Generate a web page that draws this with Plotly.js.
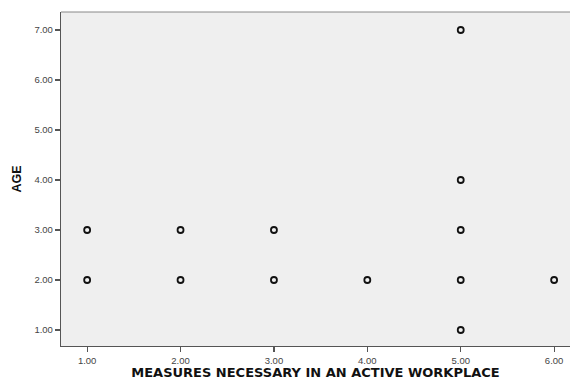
<!DOCTYPE html>
<html>
<head>
<meta charset="utf-8">
<script src="https://cdn.plot.ly/plotly-3.0.1.min.js"></script>
<style>html,body{margin:0;padding:0;background:#fff;}#chart{width:570px;height:380px;}</style>
</head>
<body>
<div id="chart"></div>
<script>
const measures = [1, 1, 2, 2, 3, 3, 4, 5, 5, 5, 5, 5, 6];
const age      = [3, 2, 3, 2, 3, 2, 2, 7, 4, 3, 2, 1, 2];
const xTicks = [1, 2, 3, 4, 5, 6];
const yTicks = [1, 2, 3, 4, 5, 6, 7];
const tickText = v => v.toFixed(2);

const trace = {
  x: measures,
  y: age,
  type: 'scatter',
  mode: 'markers',
  marker: {symbol: 'circle-open', size: 6, color: '#111', line: {width: 1.8, color: '#111'}},
  hoverinfo: 'x+y'
};

const axisBase = {
  showgrid: false, zeroline: false, showline: true, linecolor: '#555', linewidth: 1.2,
  ticks: 'outside', ticklen: 5, tickwidth: 1.2, tickcolor: '#555',
  tickfont: {family: 'Arial, Liberation Sans, sans-serif', size: 9.5, color: '#444'}
};

const layout = {
  width: 570, height: 380,
  margin: {l: 61, r: 0, t: 12, b: 34},
  paper_bgcolor: '#ffffff',
  plot_bgcolor: '#efefef',
  showlegend: false,
  xaxis: Object.assign({}, axisBase, {
    range: [0.72, 6.17], tickvals: xTicks, ticktext: xTicks.map(tickText),
    title: {text: 'MEASURES NECESSARY IN AN ACTIVE WORKPLACE', standoff: 9,
      font: {family: 'DejaVu Sans, sans-serif', size: 13, color: '#111', weight: 'bold'}}
  }),
  yaxis: Object.assign({}, axisBase, {
    range: [0.68, 7.36], tickvals: yTicks, ticktext: yTicks.map(tickText),
    title: {text: 'AGE', standoff: 10,
      font: {family: 'Arial, Liberation Sans, sans-serif', size: 12.5, color: '#111', weight: 'bold'}}
  }),
  shapes: [{type: 'line', xref: 'paper', yref: 'paper', x0: 0, x1: 1, y0: 1, y1: 1,
    line: {color: '#888', width: 1}}]
};

Plotly.newPlot('chart', [trace], layout, {displayModeBar: false, staticPlot: true});
</script>
</body>
</html>
